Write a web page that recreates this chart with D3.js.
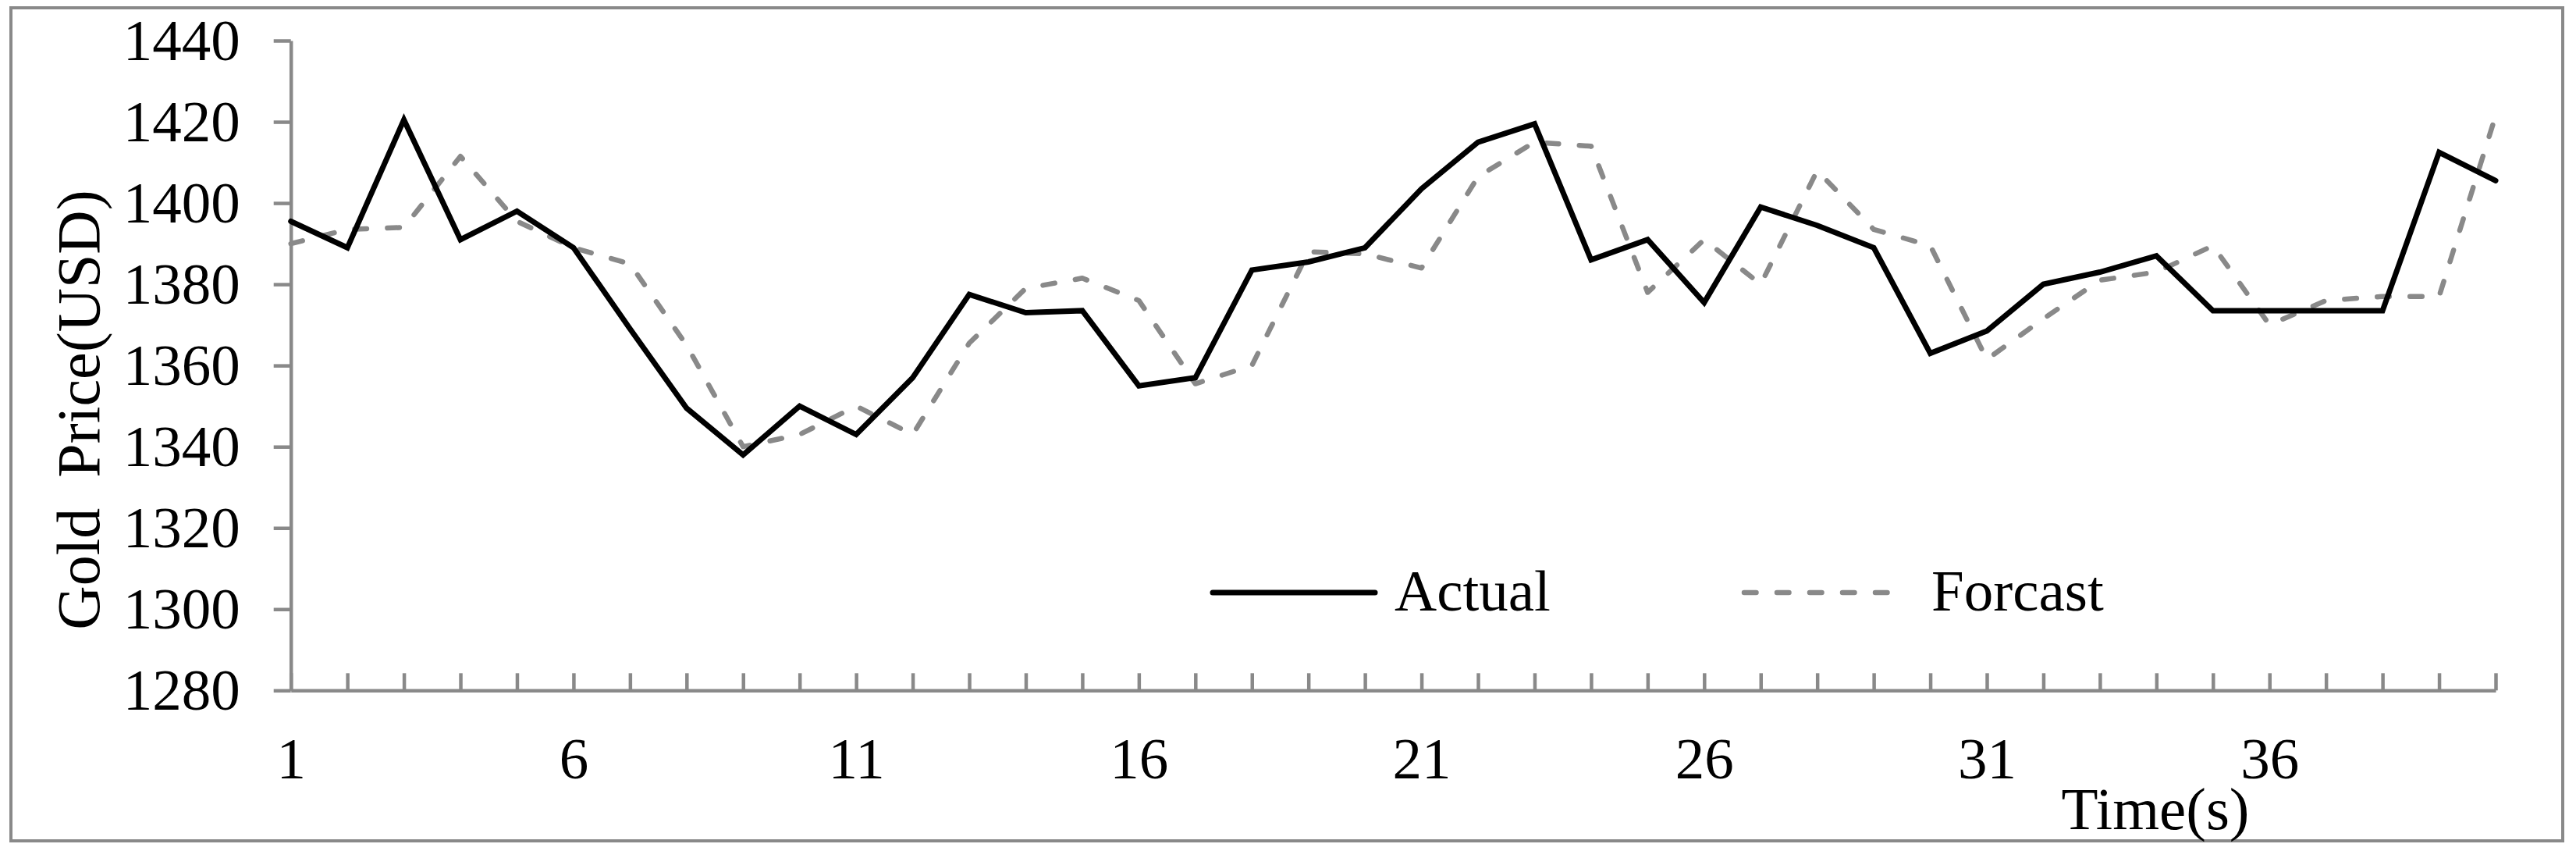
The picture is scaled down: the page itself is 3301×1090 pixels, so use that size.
<!DOCTYPE html>
<html>
<head>
<meta charset="utf-8">
<script src="https://cdn.jsdelivr.net/npm/d3@7"></script>
<style>
    html, body { margin: 0; padding: 0; background: #fff; }
    svg { display: block; }
    text { font-family: "Liberation Serif", "Times New Roman", serif; fill: #000; }
</style>
</head>
<body>
<svg id="chart" width="3301" height="1090"></svg>
<script>
// time steps
var categories = [1, 2, 3, 4, 5, 6, 7, 8, 9, 10,
    11, 12, 13, 14, 15, 16, 17, 18, 19, 20,
    21, 22, 23, 24, 25, 26, 27, 28, 29, 30,
    31, 32, 33, 34, 35, 36, 37, 38, 39, 40];

var actual = [1395.5, 1389, 1420.5, 1391, 1398, 1389, 1369, 1349.5, 1338, 1350,
    1343, 1357, 1377.5, 1373, 1373.5, 1355, 1357, 1383.5, 1385.5, 1389,
    1403.5, 1415, 1419.5, 1386, 1391, 1375.5, 1399, 1394.5, 1389, 1363,
    1368.5, 1380, 1383, 1387, 1373.5, 1373.5, 1373.5, 1373.5, 1412.5, 1405.5];

var forcast = [1390, 1393.5, 1394, 1411.5, 1395.5, 1389, 1385, 1365, 1340, 1343,
    1350, 1343, 1365.5, 1379, 1381.5, 1376, 1355.5, 1360, 1388, 1387.5,
    1384, 1406.5, 1415, 1414, 1378, 1391, 1380, 1408, 1393.5, 1389.5,
    1361.5, 1371.5, 1381, 1383, 1389.5, 1370, 1376, 1377, 1377, 1421.5];

var xLabels = [1, 6, 11, 16, 21, 26, 31, 36];
var yTicks = [1280, 1300, 1320, 1340, 1360, 1380, 1400, 1420, 1440];
var seriesNames = ["Actual", "Forcast"];

var svg = d3.select("#chart"),
    width = +svg.attr("width"),
    height = +svg.attr("height");

var grey = "#898989";

// outer frame
svg.append("rect")
    .attr("x", 14).attr("y", 10)
    .attr("width", 3270).attr("height", 1067)
    .attr("fill", "none")
    .attr("stroke", grey)
    .attr("stroke-width", 4);

var x = d3.scalePoint()
    .domain(categories)
    .range([372.7, 3198]);

var y = d3.scaleLinear()
    .domain([1280, 1440])
    .range([884.3, 52]);

// y axis
var yAxis = svg.append("g")
    .attr("transform", "translate(" + x(1) + ",0)")
    .call(d3.axisLeft(y)
        .tickValues(yTicks)
        .tickSize(22)
        .tickSizeOuter(0)
        .tickPadding(43)
        .tickFormat(d3.format("d")));

// x axis, ticks point up into the plot
var xAxis = svg.append("g")
    .attr("transform", "translate(0," + y(1280) + ")")
    .call(d3.axisBottom(x)
        .tickSizeInner(-22)
        .tickSizeOuter(0)
        .tickPadding(59)
        .tickFormat(function(d) {
            return xLabels.indexOf(d) >= 0 ? d : "";
        }));

[yAxis, xAxis].forEach(function(g) {
    g.selectAll("path.domain").attr("stroke", grey).attr("stroke-width", 4.5);
    g.selectAll(".tick line").attr("stroke", grey).attr("stroke-width", 4.5);
    g.selectAll(".tick text")
        .attr("fill", "#000")
        .style("font-family", "'Liberation Serif', 'Times New Roman', serif")
        .style("font-size", "75px");
});

var line = d3.line()
    .x(function(d, i) { return x(categories[i]); })
    .y(function(d) { return y(d); });

svg.append("path")
    .datum(forcast)
    .attr("d", line)
    .attr("fill", "none")
    .attr("stroke", grey)
    .attr("stroke-width", 6.5)
    .attr("stroke-linecap", "round")
    .attr("stroke-linejoin", "round")
    .attr("stroke-dasharray", "15.5,26.5");

svg.append("path")
    .datum(actual)
    .attr("d", line)
    .attr("fill", "none")
    .attr("stroke", "#000")
    .attr("stroke-width", 7)
    .attr("stroke-linecap", "round")
    .attr("stroke-linejoin", "miter");

// legend
var legend = svg.append("g")
    .selectAll("g")
    .data(seriesNames)
    .enter().append("g")
    .attr("transform", function(d, i) {
        return "translate(" + (1554 + i * 681) + ",759)";
    });

legend.append("line")
    .attr("x1", 0).attr("x2", 208)
    .attr("y1", 0).attr("y2", 0)
    .attr("stroke", function(d, i) { return i === 0 ? "#000" : grey; })
    .attr("stroke-width", function(d, i) { return i === 0 ? 7 : 6.5; })
    .attr("stroke-linecap", "round")
    .attr("stroke-dasharray", function(d, i) { return i === 0 ? null : "15.5,26.5"; });

legend.append("text")
    .attr("x", function(d, i) { return i === 0 ? 233 : 240; })
    .attr("y", 23)
    .style("font-size", "75px")
    .text(function(d) { return d; });

// axis titles
svg.append("text")
    .attr("transform", "translate(127,525) rotate(-90)")
    .attr("text-anchor", "middle")
    .style("font-size", "78px")
    .style("white-space", "pre")
    .text("Gold  Price(USD)");

svg.append("text")
    .attr("x", 2762)
    .attr("y", 1062)
    .attr("text-anchor", "middle")
    .style("font-size", "77px")
    .text("Time(s)");
</script>
</body>
</html>
